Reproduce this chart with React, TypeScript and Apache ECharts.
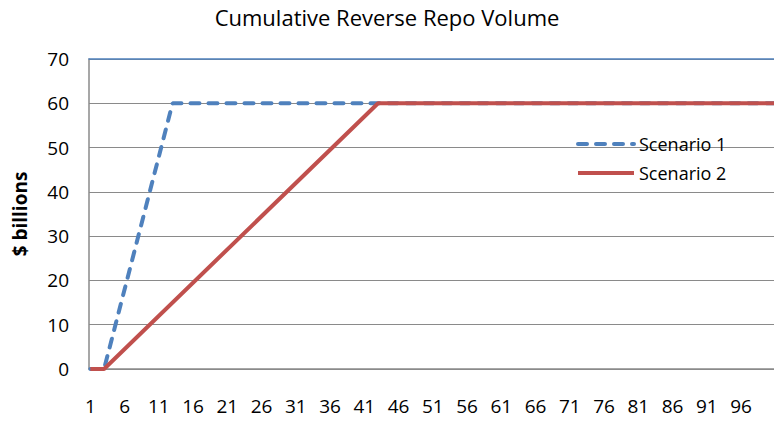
import React, { useEffect, useRef } from "react";
import * as echarts from "echarts";

const titleText = "Cumulative Reverse Repo Volume";
const yAxisName = "$ billions";
const seriesNames = ["Scenario 1", "Scenario 2"];
const scenario1Days = [1, 3, 13, 101];
const scenario1Values = [0, 0, 60, 60];
const scenario2Days = [1, 3, 43, 101];
const scenario2Values = [0, 0, 60, 60];
const xTickLabels = [1, 6, 11, 16, 21, 26, 31, 36, 41, 46, 51, 56, 61, 66, 71, 76, 81, 86, 91, 96];

const FONT = "'Open Sans', 'Noto Sans', sans-serif";

export default function App() {
  const ref = useRef<HTMLDivElement>(null);
  useEffect(() => {
    document.body.style.margin = "0";
    const chart = echarts.init(ref.current!, null, { renderer: "svg" });
    const gray = "#8a8a8a";
    chart.setOption({
      animation: false,
      textStyle: { fontFamily: FONT },
      title: {
        text: titleText,
        left: "center",
        top: 1,
        textStyle: { fontSize: 22, fontWeight: "normal", color: "#000", fontFamily: FONT },
      },
      legend: {
        data: seriesNames,
        orient: "vertical",
        left: 571,
        top: 130,
        padding: 5,
        itemWidth: 56,
        itemHeight: 14,
        itemGap: 11,
        itemStyle: { opacity: 0 },
        lineStyle: { width: 4 },
        textStyle: { fontSize: 18, color: "#000", fontFamily: FONT },
      },
      grid: { left: 89, right: 0, top: 59, bottom: 54, containLabel: false, outerBoundsMode: "none" },
      xAxis: [
        {
          type: "value",
          min: 0.8,
          max: 100.8,
          axisLine: { show: true, lineStyle: { color: gray, width: 1.5 } },
          axisTick: { show: false },
          splitLine: { show: false },
          axisLabel: {
            customValues: xTickLabels,
            fontSize: 19,
            color: "#000",
            margin: 27,
            fontFamily: FONT,
          },
        },
        {
          type: "value",
          position: "top",
          min: 0.8,
          max: 100.8,
          axisLine: { show: true, lineStyle: { color: "#4F81BD", width: 1.5 } },
          axisTick: { show: false },
          axisLabel: { show: false },
          splitLine: { show: false },
        },
      ],
      yAxis: {
        type: "value",
        min: 0,
        max: 70,
        interval: 10,
        name: yAxisName,
        nameLocation: "middle",
        nameGap: 60,
        nameTextStyle: { fontSize: 19, fontWeight: "bold", color: "#000", fontFamily: FONT },
        axisLine: { show: true, lineStyle: { color: gray, width: 1.5 } },
        axisTick: { show: false },
        axisLabel: { fontSize: 19, color: "#000", margin: 20, fontFamily: FONT },
        splitLine: { show: true, lineStyle: { color: gray, width: 1.2 } },
      },
      series: [
        {
          name: seriesNames[0],
          type: "line",
          xAxisIndex: 0,
          data: scenario1Days.map((d, i) => [d, scenario1Values[i]]),
          symbol: "none",
          showSymbol: false,
          lineStyle: { color: "#4F81BD", width: 4, type: [9, 9], cap: "round" },
          itemStyle: { color: "#4F81BD" },
        },
        {
          name: seriesNames[1],
          type: "line",
          xAxisIndex: 0,
          data: scenario2Days.map((d, i) => [d, scenario2Values[i]]),
          symbol: "none",
          showSymbol: false,
          lineStyle: { color: "#C0504D", width: 4 },
          itemStyle: { color: "#C0504D" },
        },
      ],
    });
    return () => chart.dispose();
  }, []);
  return <div ref={ref} style={{ width: 774, height: 423 }} />;
}
